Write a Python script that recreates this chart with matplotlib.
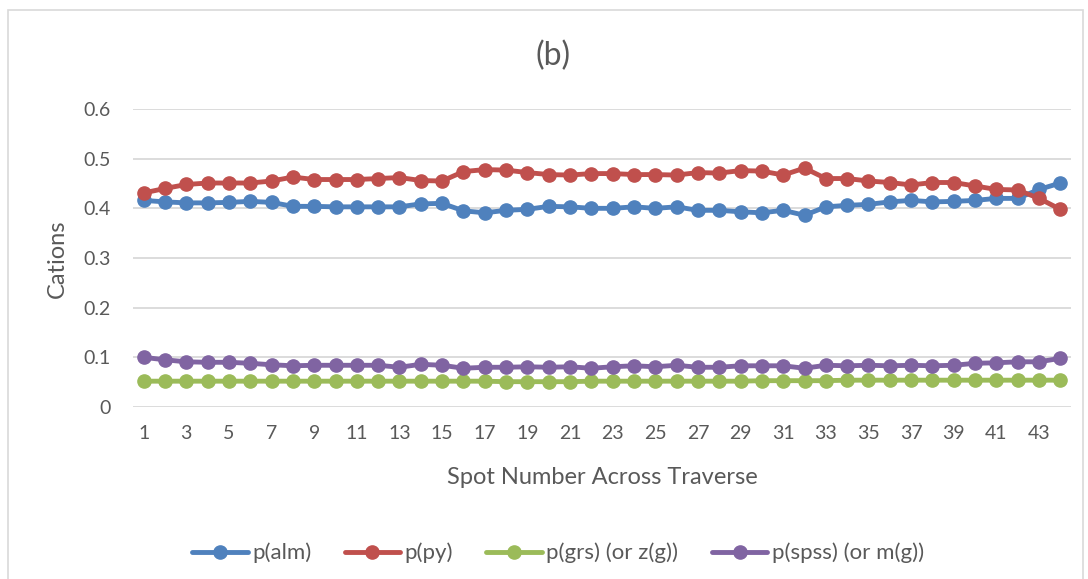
import numpy as np
import matplotlib.pyplot as plt
from matplotlib.patches import Rectangle

# spot numbers across the traverse
spots = list(range(1, 45))

p_alm = [0.416, 0.413, 0.411, 0.411, 0.412, 0.414, 0.412, 0.404, 0.404, 0.403, 0.403,
         0.403, 0.403, 0.409, 0.410, 0.395, 0.391, 0.396, 0.398, 0.404, 0.403, 0.400,
         0.400, 0.403, 0.400, 0.403, 0.396, 0.396, 0.393, 0.391, 0.396, 0.386, 0.403,
         0.406, 0.408, 0.413, 0.416, 0.413, 0.414, 0.416, 0.420, 0.420, 0.438, 0.451]
p_py = [0.431, 0.440, 0.448, 0.451, 0.451, 0.451, 0.455, 0.463, 0.458, 0.458, 0.458,
        0.460, 0.462, 0.456, 0.455, 0.474, 0.478, 0.477, 0.472, 0.468, 0.467, 0.470,
        0.470, 0.468, 0.468, 0.467, 0.472, 0.471, 0.476, 0.475, 0.467, 0.481, 0.460,
        0.460, 0.455, 0.452, 0.447, 0.452, 0.452, 0.445, 0.438, 0.437, 0.420, 0.398]
p_grs = [0.052, 0.052, 0.052, 0.052, 0.052, 0.052, 0.052, 0.052, 0.052, 0.052, 0.052,
         0.052, 0.052, 0.052, 0.052, 0.052, 0.052, 0.051, 0.051, 0.051, 0.051, 0.052,
         0.052, 0.052, 0.052, 0.052, 0.052, 0.052, 0.052, 0.053, 0.053, 0.053, 0.053,
         0.054, 0.054, 0.054, 0.054, 0.054, 0.054, 0.054, 0.054, 0.054, 0.054, 0.054]
p_spss = [0.100, 0.095, 0.091, 0.090, 0.090, 0.088, 0.085, 0.083, 0.084, 0.084, 0.084,
          0.084, 0.080, 0.086, 0.084, 0.078, 0.080, 0.080, 0.081, 0.080, 0.081, 0.078,
          0.081, 0.083, 0.081, 0.084, 0.080, 0.080, 0.083, 0.083, 0.083, 0.078, 0.084,
          0.083, 0.084, 0.083, 0.084, 0.083, 0.084, 0.088, 0.089, 0.091, 0.091, 0.098]

series = [
    ("p(alm)", p_alm, "#4F81BD"),
    ("p(py)", p_py, "#C0504D"),
    ("p(grs) (or z(g))", p_grs, "#9BBB59"),
    ("p(spss) (or m(g))", p_spss, "#8064A2"),
]

plt.rcParams['font.family'] = ['Lato', 'DejaVu Sans']
text_color = "#595959"
W, H = 1088, 579

fig = plt.figure(figsize=(W / 100, H / 100), dpi=100)
# light grey chart-area border (bottom edge runs off the picture)
fig.patches.append(Rectangle((8 / W, -0.05), 1075 / W, 1.05 - 10 / H,
                             transform=fig.transFigure, fill=False,
                             edgecolor="#D9D9D9", linewidth=1.2))

ax = fig.add_axes([133 / W, 1 - 407 / H, (1071 - 133) / W, (407 - 109) / H])

for label, vals, color in series:
    ax.plot(spots, vals, color=color, linewidth=3.5, marker="o", markersize=9.5,
            label=label, solid_capstyle="round")

ax.set_xlim(0.5, 44.5)
ax.set_ylim(0, 0.6)
ax.set_yticks(np.arange(0, 0.61, 0.1))
ax.set_yticklabels(["0", "0.1", "0.2", "0.3", "0.4", "0.5", "0.6"])
ax.set_xticks(range(1, 45, 2))
ax.grid(axis="y", color="#D9D9D9", linewidth=1.3)
ax.set_axisbelow(True)
for side in ["top", "right", "left", "bottom"]:
    ax.spines[side].set_visible(False)
ax.tick_params(axis="both", length=0, labelsize=14, labelcolor=text_color)
ax.tick_params(axis="x", pad=13)
ax.tick_params(axis="y", pad=16)

fig.text(602 / W, 1 - 478 / H, "Spot Number Across Traverse", fontsize=17,
         color=text_color, ha="center", va="center")
fig.text(57 / W, 1 - 259 / H, "Cations", fontsize=17, color=text_color,
         rotation=90, ha="center", va="center")
fig.text(553 / W, 1 - 56 / H, "(b)", fontsize=23, color=text_color,
         ha="center", va="center")

fig.legend(loc="center", bbox_to_anchor=(558 / W, 1 - 553 / H), ncol=4,
           frameon=False, fontsize=16, labelcolor=text_color, handlelength=2.5,
           columnspacing=1.5, handletextpad=0.2)

fig.savefig("out.png", dpi=100)
